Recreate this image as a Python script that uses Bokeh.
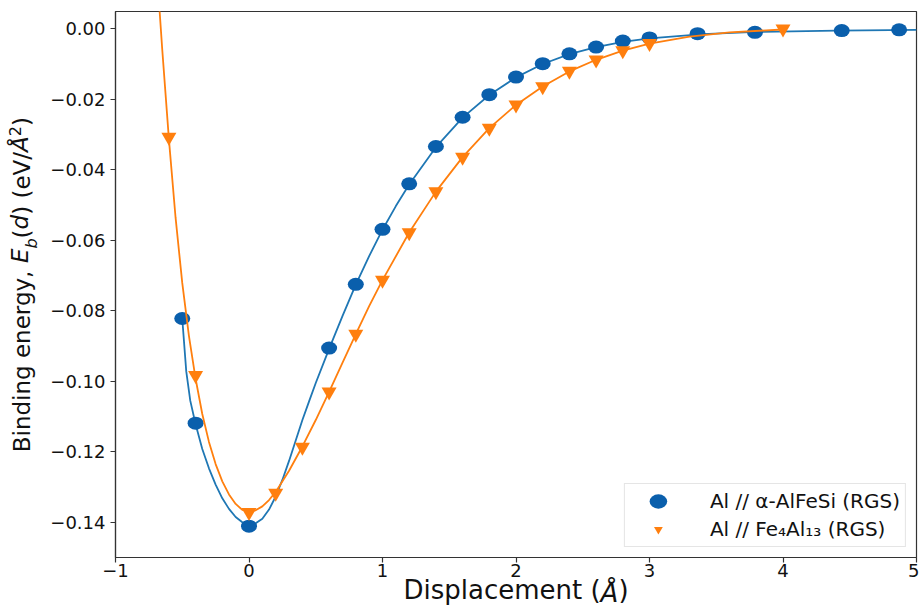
import math
from bokeh.plotting import figure
from bokeh.models import (Range1d, FixedTicker, CustomJSTickFormatter, Legend,
                          LegendItem, LinearAxis)
from bokeh.embed import file_html
from bokeh.resources import INLINE

# ---------------- data ----------------
blue_x = [-0.5, -0.4, 0.0, 0.6, 0.8, 1.0, 1.2, 1.4, 1.6, 1.8, 2.0, 2.2, 2.4,
          2.6, 2.8, 3.0, 3.36, 3.79, 4.44, 4.87]
blue_y = [-0.0822, -0.1119, -0.1411, -0.0906, -0.0725, -0.0569, -0.0440,
          -0.0334, -0.0251, -0.0187, -0.0137, -0.0099, -0.0071, -0.0052,
          -0.0035, -0.0026, -0.0014, -0.0010, -0.0005, -0.0003]

orange_x = [-0.6, -0.4, 0.0, 0.2, 0.4, 0.6, 0.8, 1.0, 1.2, 1.4, 1.6, 1.8,
            2.0, 2.2, 2.4, 2.6, 2.8, 3.0, 4.0]
orange_y = [-0.0307, -0.0983, -0.1372, -0.1317, -0.1187, -0.1030, -0.0866,
            -0.0713, -0.0578, -0.0462, -0.0364, -0.0282, -0.0216, -0.0164,
            -0.0120, -0.0088, -0.0062, -0.0041, 0.0]

# fitted curves
fit_blue_x = [-0.5, -0.47, -0.44, -0.4, -0.35, -0.3, -0.25, -0.2, -0.15, -0.1,
              -0.05, 0.0, 0.05, 0.1, 0.15, 0.2, 0.25, 0.3, 0.35, 0.4, 0.45,
              0.5, 0.6, 0.7, 0.8, 0.9, 1.0, 1.1, 1.2, 1.4, 1.6, 1.8, 2.0, 2.2,
              2.4, 2.6, 2.8, 3.0, 3.4, 3.8, 4.4, 5.0]
fit_blue_y = [-0.0822, -0.0972, -0.1055, -0.1122, -0.1192, -0.1247, -0.1293,
              -0.1332, -0.1362, -0.1385, -0.1400, -0.1407, -0.1403, -0.1390,
              -0.1364, -0.1327, -0.1280, -0.1226, -0.1168, -0.1110, -0.1057,
              -0.1005, -0.0908, -0.0815, -0.0726, -0.0645, -0.0570, -0.0503,
              -0.0442, -0.0336, -0.0252, -0.0188, -0.0138, -0.0100, -0.0072,
              -0.0052, -0.0037, -0.0027, -0.0015, -0.0009, -0.0005, -0.0003]

fit_orange_x = [-0.68, -0.65, -0.6, -0.55, -0.5, -0.45, -0.4, -0.35, -0.3,
                -0.25, -0.2, -0.15, -0.1, -0.05, 0.0, 0.05, 0.1, 0.15, 0.2,
                0.3, 0.4, 0.5, 0.6, 0.7, 0.8, 0.9, 1.0, 1.2, 1.4, 1.6, 1.8,
                2.0, 2.2, 2.4, 2.6, 2.8, 3.0, 3.3, 3.6, 4.0]
fit_orange_y = [0.0108, -0.0058, -0.0313, -0.0536, -0.0721, -0.0871, -0.0993,
                -0.1093, -0.1172, -0.1235, -0.1284, -0.1321, -0.1348, -0.1365,
                -0.1370, -0.1366, -0.1355, -0.1337, -0.1314, -0.1254, -0.1185,
                -0.1110, -0.1030, -0.0948, -0.0866, -0.0787, -0.0713, -0.0578,
                -0.0462, -0.0364, -0.0282, -0.0216, -0.0164, -0.0121, -0.0088,
                -0.0062, -0.0042, -0.0022, -0.0010, -0.0002]

x_ticks = [-1, 0, 1, 2, 3, 4, 5]
y_ticks = [-0.14, -0.12, -0.10, -0.08, -0.06, -0.04, -0.02, 0.0]

label_blue = "Al // \u03b1-AlFeSi (RGS)"
label_orange = "Al // Fe\u2084Al\u2081\u2083 (RGS)"

# axis titles as styled pieces: (text, group)
x_label_parts = [("Displacement (", "N"), ("\u00c5", "I"), (")", "N")]
y_label_parts = [("Binding energy, ", "N"), ("E", "I"), ("b", "Sb"),
                 ("(", "N"), ("d", "I"), (") (eV/", "N"), ("\u00c5", "I"),
                 ("2", "S2"), (")", "N")]

# ---------------- styles ----------------
BLUE_LINE = "#1f77b4"
BLUE_MARK = "#0a5fac"
ORANGE = "#ff7f0e"
TXT = "#111111"
SPINE = "#333333"
FONT = "DejaVu Sans"

W, H = 919, 611
BL, BR, BT, BB = 115, 3, 11, 54
X0, X1 = -1, 5
Y0, Y1 = -0.150, 0.0049

p = figure(width=W, height=H, output_backend="svg", toolbar_location=None,
           x_range=Range1d(X0, X1), y_range=Range1d(Y0, Y1),
           min_border_left=BL, min_border_right=BR, min_border_top=BT,
           min_border_bottom=BB)
p.background_fill_color = "white"
p.border_fill_color = "white"
p.grid.visible = False
p.outline_line_color = SPINE
p.outline_line_width = 1.2

p.xaxis.ticker = FixedTicker(ticks=x_ticks)
p.yaxis.ticker = FixedTicker(ticks=y_ticks)
p.xaxis.formatter = CustomJSTickFormatter(
    code="return (tick < 0 ? '\u2212' : '') + Math.abs(tick).toFixed(0);")
p.yaxis.formatter = CustomJSTickFormatter(
    code="return (tick < -1e-9 ? '\u2212' : '') + Math.abs(tick).toFixed(2);")
for ax in (p.xaxis[0], p.yaxis[0]):
    ax.axis_line_color = SPINE
    ax.axis_line_width = 1.2
    ax.major_tick_line_color = SPINE
    ax.major_tick_line_width = 1.2
    ax.major_tick_in = 0
    ax.major_tick_out = 5
    ax.minor_tick_line_color = None
    ax.major_label_text_font = FONT
    ax.major_label_text_font_size = "18px"
    ax.major_label_text_color = TXT
p.xaxis.major_label_standoff = 1
p.yaxis.major_label_standoff = 5

# ---------------- glyphs ----------------
p.line(fit_blue_x, fit_blue_y, line_color=BLUE_LINE, line_width=1.8)
r_blue = p.ellipse(x=blue_x, y=blue_y, width=16, height=13,
                   width_units="screen", height_units="screen",
                   fill_color=BLUE_MARK, line_color=None)
p.line(fit_orange_x, fit_orange_y, line_color=ORANGE, line_width=1.8)
r_orange = p.scatter(x=orange_x, y=orange_y, marker="inverted_triangle",
                     size=15, fill_color=ORANGE, line_color=None)

legend = Legend(items=[LegendItem(label=label_blue, renderers=[r_blue]),
                       LegendItem(label=label_orange, renderers=[r_orange])],
                location="bottom_right", margin=10, padding=5, spacing=4,
                glyph_width=56, glyph_height=22, label_standoff=24,
                label_text_font=FONT, label_text_font_size="20px",
                label_text_color=TXT,
                border_line_color="#cccccc", border_line_width=1,
                background_fill_color="white", background_fill_alpha=0.85)
p.add_layout(legend)

# ---------------- axis titles, set as styled text pieces ----------------
# Pieces are placed with label-only axes in the side panels (not clipped).
ADV = {"B": .686, "i": .278, "n": .634, "d": .635, "g": .635, " ": .318,
       "e": .615, "r": .411, "y": .592, ",": .318, "E": .632, "b": .635,
       "(": .390, ")": .390, "V": .684, "/": .337, "\u00c5": .684, "2": .636,
       "D": .770, "s": .521, "p": .635, "l": .278, "a": .613, "c": .550,
       "m": .974, "t": .392}


def adv(txt, size):
    return sum(ADV.get(c, .6) for c in txt) * size


def layout_pieces(parts, groups, start_px, lo, px_to_data):
    centers = {g: [] for g in groups}
    texts = {g: [] for g in groups}
    for txt, g in parts:
        size = groups[g][0]
        lead = len(txt) - len(txt.lstrip(" "))
        core = txt.strip(" ")
        c = start_px + adv(txt[:lead], size) + adv(core, size) / 2
        centers[g].append(lo + c * px_to_data)
        texts[g].append(core)
        start_px += adv(txt, size)
    return centers, texts


def piece_axis(ticks, texts, size, style, standoff):
    return LinearAxis(ticker=FixedTicker(ticks=ticks),
                      formatter=CustomJSTickFormatter(args=dict(parts=texts),
                                                      code="return parts[index];"),
                      axis_line_color=None, major_tick_line_color=None,
                      minor_tick_line_color=None, major_tick_in=0,
                      major_tick_out=0, major_label_standoff=standoff,
                      major_label_orientation="parallel",
                      major_label_text_font=FONT,
                      major_label_text_font_size=f"{size}px",
                      major_label_text_font_style=style,
                      major_label_text_color=TXT)


# y title: group -> (font px, style, baseline x on canvas, extent, descent)
YG = {"Sb": (16, "italic", 40.5, 19, 3.8),
      "N": (23, "normal", 36.0, 27, 5.4),
      "I": (23, "italic", 36.0, 27, 5.4),
      "S2": (16, "normal", 27.0, 19, 3.8)}
frame_h = H - BT - BB
yc, yt = layout_pieces(y_label_parts, YG, 105.0, Y0, (Y1 - Y0) / frame_h)
pos = 50.0                             # outer edge of the tick-label axis
for g in ["Sb", "N", "I", "S2"]:
    size, style, base_x, ext, desc = YG[g]
    standoff = int(round(pos - (base_x + desc)))
    p.add_layout(piece_axis(yc[g], yt[g], size, style, standoff), "left")
    pos -= standoff + ext

# x title: group -> (font px, style, standoff)
XG = {"N": (26, "normal", -5), "I": (26, "italic", -30)}
frame_w = W - BL - BR
x_total = sum(adv(t, XG[g][0]) for t, g in x_label_parts)
xc, xt = layout_pieces(x_label_parts, XG, frame_w / 2 - x_total / 2, X0,
                       (X1 - X0) / frame_w)
for g in ["N", "I"]:
    size, style, standoff = XG[g]
    p.add_layout(piece_axis(xc[g], xt[g], size, style, standoff), "below")

open("out.html", "w").write(file_html(p, INLINE))
